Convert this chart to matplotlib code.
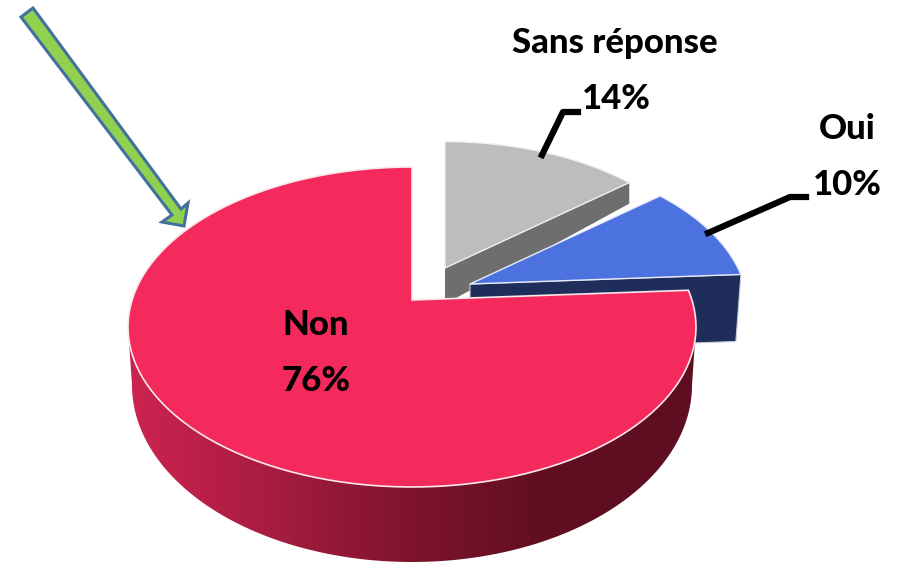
#!/usr/bin/env python3

import numpy as np
import matplotlib
matplotlib.use('Agg')
import matplotlib.pyplot as plt
from matplotlib.colors import LinearSegmentedColormap
from matplotlib.patches import Polygon

# values, clockwise from 12 o'clock
categories = ['Sans réponse', 'Oui', 'Non']
percents = [14, 10, 76]

# fake perspective of the tilted pie, in pixels
CX, CY, RX, RY = 412, 327, 284, 160
APEX = (412, 300)
SQUASH = 0.56


def rim_point(deg, scale=1.0):
    """Where a ray from the apex at a pie angle meets the top ellipse"""
    t = np.radians(deg)
    dx, dy = np.cos(t), -SQUASH * np.sin(t)
    ox, oy = APEX[0] - CX, APEX[1] - CY
    a = (dx / RX) ** 2 + (dy / RY) ** 2
    b = 2 * (ox * dx / RX ** 2 + oy * dy / RY ** 2)
    c = (ox / RX) ** 2 + (oy / RY) ** 2 - 1
    r = (-b + np.sqrt(b * b - 4 * a * c)) / (2 * a)
    return np.array([APEX[0] + scale * r * dx, APEX[1] + scale * r * dy])


def wedge_top(start, end, offset=(0, 0), scale=1.0):
    """Outline of a slice going counter-clockwise from start to end"""
    angles = np.linspace(start, end, 120)
    rim = np.array([rim_point(a, scale) for a in angles])
    pts = np.vstack([[APEX], rim]) + np.array(offset)
    return pts


# slice angles from the percentages
spans = [p * 3.6 for p in percents]
a_gray = (90 - spans[0], 90)
a_blue = (a_gray[0] - spans[1], a_gray[0])
a_non = (90, 90 + spans[2])

fig = plt.figure(figsize=(8.97, 5.70), dpi=100)
ax = fig.add_axes([0, 0, 1, 1])

# gray slice
off_gray = (33, -32)
top = wedge_top(*a_gray, offset=off_gray, scale=0.95)
p0, p1 = top[0], top[1]
ax.add_patch(Polygon([p0, p1, p1 + (0, 21), p0 + (0, 36)], fc='#6E6E6E', ec='none', zorder=1))
ax.add_patch(Polygon(top, fc='#BDBDBD', ec='#F0F0F0', lw=1.0, zorder=2))

# blue slice
off_blue = (58, -16)
top = wedge_top(*a_blue, offset=off_blue, scale=0.98)
p0, p1 = top[0], top[1]
ax.add_patch(Polygon([p0, p1, p1 + (-5, 67), p0 + (0, 67)], fc='#1F2D5A', ec='#C8CCD8', lw=0.8, zorder=3))
ax.add_patch(Polygon(top, fc='#4C72DF', ec='#E8ECF8', lw=1.0, zorder=4))

# side wall of the big slice, shaded left to right
t = np.radians(np.linspace(180, 360, 200))
upper = np.column_stack([CX + RX * np.cos(t), CY - RY * np.sin(t)])
lower = np.column_stack([CX + 280 * np.cos(t), 385 - 177 * np.sin(t)])
wall = Polygon(np.vstack([upper, lower[::-1]]), fc='none', ec='none', zorder=5)
ax.add_patch(wall)
wall_cmap = LinearSegmentedColormap.from_list(
    'wall', ['#CC2450', '#A81C40', '#7E142C', '#5E0E20', '#5E0E20'])
grad = ax.imshow(np.linspace(0, 1, 256).reshape(1, -1), cmap=wall_cmap, aspect='auto',
                 extent=(128, 696, 570, 320), zorder=5)
grad.set_clip_path(wall)

# big slice on top
top = wedge_top(*a_non)
ax.add_patch(Polygon(top, fc='#F42A5C', ec='#F8E8EC', lw=1.2, zorder=6))

# leader lines
ax.plot([542, 563, 578], [155, 112, 112], color='black', lw=4.5, solid_joinstyle='round', zorder=7)
ax.plot([708, 790, 806], [233, 197, 197], color='black', lw=4.5, solid_joinstyle='round', zorder=7)

# labels
font = dict(family=['Lato', 'DejaVu Sans'], fontweight=900,
            fontsize=25, color='black', ha='center', va='center', zorder=8)
ax.text(615, 43, categories[0], **font)
ax.text(616, 99, f'{percents[0]}%', **font)
ax.text(847, 129, categories[1], **font)
ax.text(847, 185, f'{percents[1]}%', **font)
ax.text(316, 325, categories[2], **font)
ax.text(316, 381, f'{percents[2]}%', **font)

# green arrow pointing at the big slice
arrow = [(21, 17), (33, 8), (181, 209), (188, 203), (184, 226), (162, 222), (172, 215)]
ax.add_patch(Polygon(arrow, fc='#92D050', ec='#41719C', lw=2.2, zorder=9))

ax.set_xlim(0, 897)
ax.set_ylim(570, 0)
ax.axis('off')

fig.savefig('out.png', dpi=100, facecolor='white')
